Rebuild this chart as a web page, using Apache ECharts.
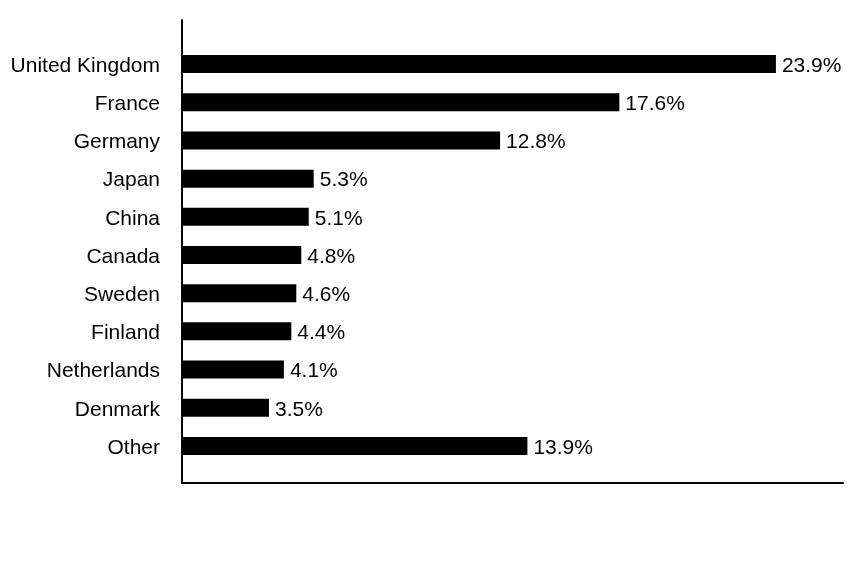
<!DOCTYPE html>
<html>
<head>
<meta charset="utf-8">
<script src="https://cdn.jsdelivr.net/npm/echarts@6/dist/echarts.min.js"></script>
<style>
  html, body { margin: 0; padding: 0; background: #fff; }
  #chart { width: 864px; height: 564px; }
</style>
</head>
<body>
<div id="chart"></div>
<script>
  var countries = ['United Kingdom', 'France', 'Germany', 'Japan', 'China', 'Canada',
    'Sweden', 'Finland', 'Netherlands', 'Denmark', 'Other'];
  var shares = [23.9, 17.6, 12.8, 5.3, 5.1, 4.8, 4.6, 4.4, 4.1, 3.5, 13.9];

  var chartDom = document.getElementById('chart');
  var myChart = echarts.init(chartDom);
  var font = 'Liberation Sans, Arial, sans-serif';

  var option = {
    backgroundColor: '#fff',
    animation: false,
    grid: [
      // bars
      { left: 182, right: 21, top: 45, bottom: 99 },
      // frame lines, a bit taller than the bars area
      { left: 182, right: 21, top: 20, bottom: 81 }
    ],
    xAxis: [
      {
        type: 'value', gridIndex: 0, min: 0, max: 26.6,
        axisLine: { show: false }, axisTick: { show: false },
        axisLabel: { show: false }, splitLine: { show: false }
      },
      {
        type: 'value', gridIndex: 1, min: 0, max: 1,
        axisLine: { show: true, lineStyle: { color: '#000', width: 2 } },
        axisTick: { show: false }, axisLabel: { show: false }, splitLine: { show: false }
      }
    ],
    yAxis: [
      {
        type: 'category', gridIndex: 0, inverse: true, data: countries,
        axisLine: { show: false }, axisTick: { show: false },
        axisLabel: {
          margin: 22,
          formatter: function (v) { return '{t|' + v + '}'; },
          rich: {
            t: { color: '#000', fontSize: 21, fontFamily: font, padding: [4, 0, 0, 0] }
          }
        }
      },
      {
        type: 'value', gridIndex: 1, min: 0, max: 1,
        axisLine: { show: true, lineStyle: { color: '#000', width: 2 } },
        axisTick: { show: false }, axisLabel: { show: false }, splitLine: { show: false }
      }
    ],
    series: [
      {
        type: 'bar',
        xAxisIndex: 0,
        yAxisIndex: 0,
        data: shares,
        barWidth: 18,
        itemStyle: { color: '#000' },
        label: {
          show: true,
          position: 'right',
          distance: 6,
          offset: [0, 2],
          color: '#000',
          fontSize: 21,
          fontFamily: font,
          formatter: function (p) { return p.value.toFixed(1) + '%'; }
        }
      }
    ]
  };

  option && myChart.setOption(option);
</script>
</body>
</html>
